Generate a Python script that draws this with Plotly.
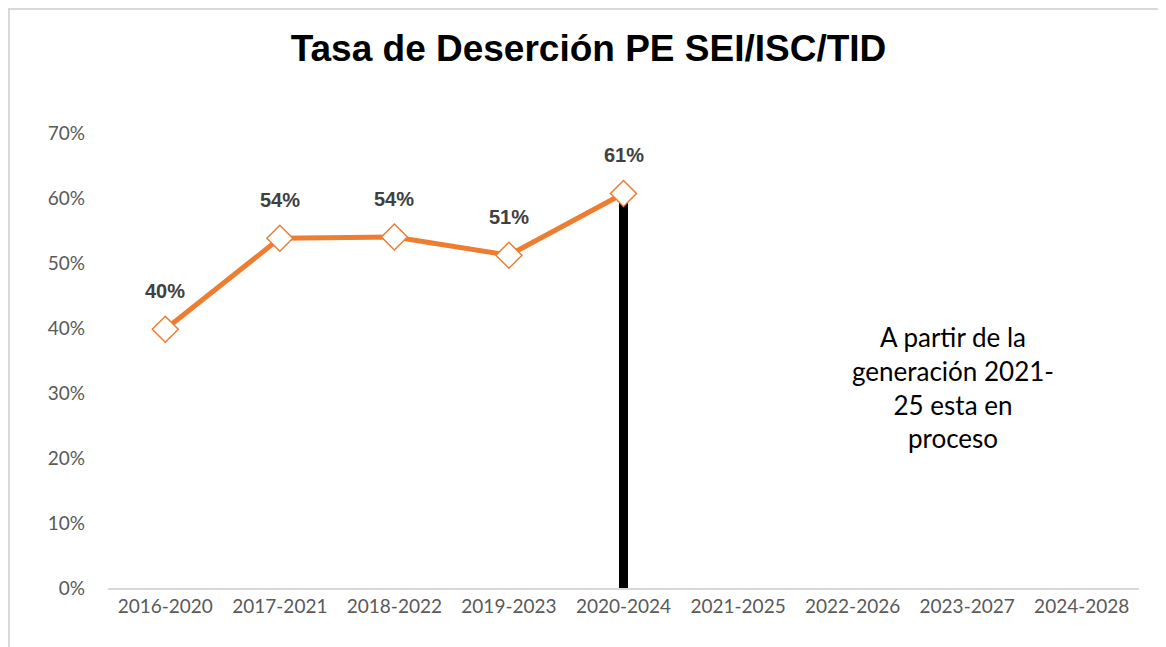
import plotly.graph_objects as go

categories = ["2016-2020", "2017-2021", "2018-2022", "2019-2023", "2020-2024",
              "2021-2025", "2022-2026", "2023-2027", "2024-2028"]
line_x = ["2016-2020", "2017-2021", "2018-2022", "2019-2023", "2020-2024"]
line_values = [0.398, 0.538, 0.540, 0.512, 0.607]
line_labels = ["40%", "54%", "54%", "51%", "61%"]
bar_x = ["2020-2024"]
bar_values = [0.603]
title_text = "Tasa de Deserción PE SEI/ISC/TID"
note_text = "A partir de la<br>generación 2021-<br>25 esta en<br>proceso"
y_ticks = [0, 0.1, 0.2, 0.3, 0.4, 0.5, 0.6, 0.7]
y_tick_labels = ["0%", "10%", "20%", "30%", "40%", "50%", "60%", "70%"]

fig = go.Figure()
fig.add_trace(go.Bar(x=bar_x, y=bar_values, width=0.07,
                     marker=dict(color="black", line=dict(width=0)),
                     hoverinfo="skip", showlegend=False))
fig.add_trace(go.Scatter(x=line_x, y=line_values, mode="lines+markers",
                         line=dict(color="#ED7D31", width=5),
                         marker=dict(symbol="diamond", size=20, color="white",
                                     line=dict(color="#ED7D31", width=1.5)),
                         showlegend=False))

for x, v, t in zip(line_x, line_values, line_labels):
    fig.add_annotation(x=x, y=v, text="<b>" + t + "</b>", showarrow=False, yshift=38,
                       font=dict(family="Liberation Sans Narrow, Arial Narrow, Liberation Sans",
                                 size=20, color="#404040"))

fig.add_annotation(xref="paper", yref="paper", x=0.82, y=0.44, text=note_text,
                   showarrow=False, align="center", xanchor="center", yanchor="middle",
                   font=dict(family="Lato", size=26, color="black"))

# chart border (page body has an 8px margin, so keep it just inside the svg)
fig.add_shape(type="rect", xref="paper", yref="paper",
              x0=-0.096, x1=1.06, y0=-0.25, y1=1.2725,
              line=dict(color="#d9d9d9", width=2), fillcolor="rgba(0,0,0,0)",
              layer="below")

fig.update_layout(
    width=1166, height=647,
    margin=dict(l=100, r=35, t=125, b=67),
    paper_bgcolor="white", plot_bgcolor="white",
    title=dict(text="<b>" + title_text + "</b>", x=(588.5 - 8) / 1166, xanchor="center",
               y=1 - (48 - 8) / 647, yanchor="middle",
               font=dict(family="Liberation Sans, Arial", size=37, color="black")),
    xaxis=dict(type="category", categoryorder="array", categoryarray=categories,
               range=[-0.5, len(categories) - 0.5],
               showline=True, linecolor="#d9d9d9", linewidth=1.5,
               showgrid=False, ticks="", zeroline=False,
               tickfont=dict(family="Lato", size=19, color="#595959")),
    yaxis=dict(range=[0, 0.7], tickvals=y_ticks, ticktext=y_tick_labels,
               showgrid=False, zeroline=False, showline=False, ticks="",
               ticklabelstandoff=22,
               tickfont=dict(family="Lato", size=19, color="#595959")),
    bargap=0,
)

fig.write_html("out.html")
